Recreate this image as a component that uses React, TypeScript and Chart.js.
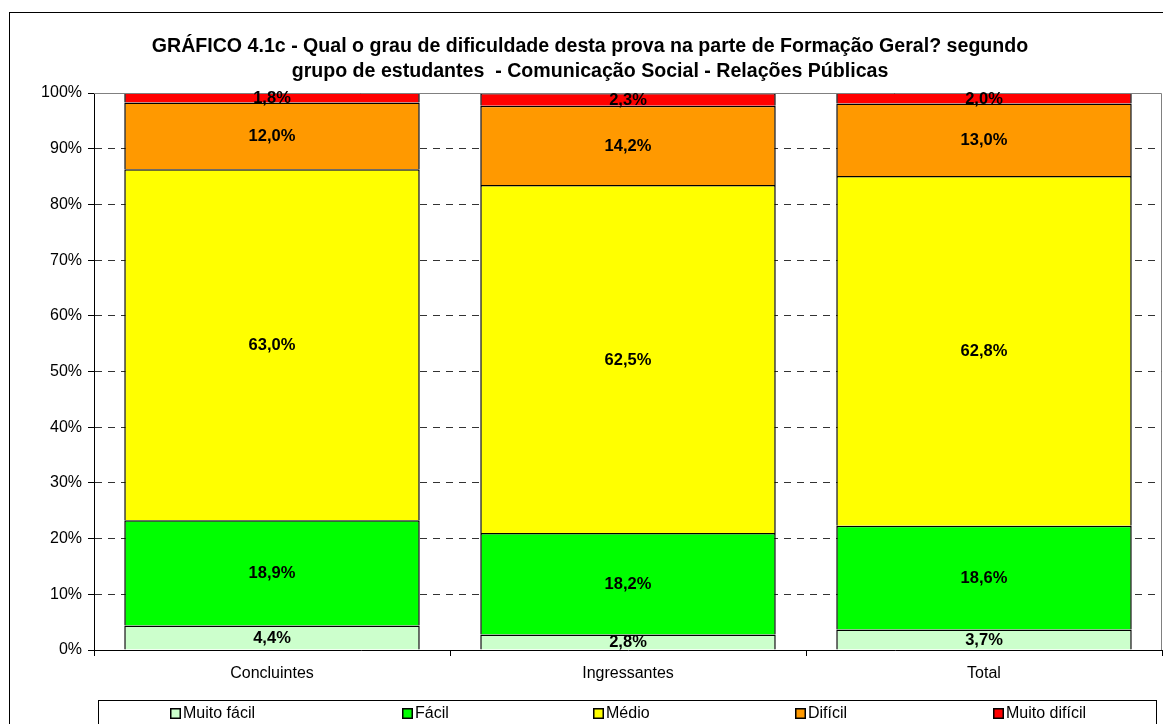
import React, { useEffect, useRef } from "react";
import { Chart, registerables } from "chart.js";

Chart.register(...registerables);

const categories = ["Concluintes", "Ingressantes", "Total"];
const seriesNames = ["Muito fácil", "Fácil", "Médio", "Difícil", "Muito difícil"];
const muitoFacil = [4.4, 2.8, 3.7];
const facil = [18.9, 18.2, 18.6];
const medio = [63.0, 62.5, 62.8];
const dificil = [12.0, 14.2, 13.0];
const muitoDificil = [1.8, 2.3, 2.0];
const yTicks = [0, 10, 20, 30, 40, 50, 60, 70, 80, 90, 100];
const titleLines = [
  "GRÁFICO 4.1c - Qual o grau de dificuldade desta prova na parte de Formação Geral? segundo",
  "grupo de estudantes  - Comunicação Social - Relações Públicas",
];
const colors = ["#CCFFCC", "#00FF00", "#FFFF00", "#FF9900", "#FF0000"];

const FONT = "'Liberation Sans', Arial, sans-serif";
const fmt = (v: number) => v.toFixed(1).replace(".", ",") + "%";

const decorPlugin = {
  id: "decor",
  beforeDraw(chart: any) {
    const { ctx } = chart;
    ctx.save();
    ctx.fillStyle = "#fff";
    ctx.fillRect(0, 0, chart.width, chart.height);
    ctx.strokeStyle = "#000";
    ctx.lineWidth = 1;
    ctx.strokeRect(9.5, 12.5, 1200, 800);
    ctx.fillStyle = "#000";
    ctx.font = `bold 19.6px ${FONT}`;
    ctx.textAlign = "center";
    ctx.textBaseline = "middle";
    ctx.fillText(titleLines[0], 590, 46.5);
    ctx.fillText(titleLines[1], 590, 71.5);
    ctx.restore();
  },
  afterDatasetsDraw(chart: any) {
    const { ctx, chartArea } = chart;
    ctx.save();
    ctx.strokeStyle = "#808080";
    ctx.lineWidth = 1;
    ctx.beginPath();
    ctx.moveTo(chartArea.left, chartArea.top + 0.5);
    ctx.lineTo(chartArea.right - 0.5, chartArea.top + 0.5);
    ctx.lineTo(chartArea.right - 0.5, chartArea.bottom);
    ctx.stroke();
    ctx.fillStyle = "#000";
    ctx.font = `bold 16.5px ${FONT}`;
    ctx.textAlign = "center";
    ctx.textBaseline = "middle";
    chart.data.datasets.forEach((ds: any, di: number) => {
      const meta = chart.getDatasetMeta(di);
      meta.data.forEach((el: any, i: number) => {
        const top = Math.max(el.y, chartArea.top);
        const cy = (top + el.base) / 2;
        ctx.fillText(fmt(ds.data[i]), el.x, cy + 1);
      });
    });
    const lx = [170, 402, 593, 795, 993];
    ctx.strokeStyle = "#000";
    ctx.lineWidth = 1;
    ctx.strokeRect(98.5, 700.5, 1058, 60);
    ctx.font = `16px ${FONT}`;
    ctx.textAlign = "left";
    seriesNames.forEach((name, i) => {
      const x = lx[i];
      ctx.fillStyle = colors[i];
      ctx.fillRect(x, 708, 11, 11);
      ctx.strokeStyle = "#000";
      ctx.lineWidth = 1.5;
      ctx.strokeRect(x + 0.75, 708.75, 9.5, 9.5);
      ctx.fillStyle = "#000";
      ctx.fillText(name, x + 13, 714);
    });
    ctx.restore();
  },
};

export default function App() {
  const ref = useRef<HTMLCanvasElement | null>(null);
  useEffect(() => {
    if (!ref.current) return;
    const seriesData = [muitoFacil, facil, medio, dificil, muitoDificil];
    const chart = new Chart(ref.current, {
      type: "bar",
      data: {
        labels: categories,
        datasets: seriesNames.map((name, i) => ({
          label: name,
          data: seriesData[i],
          backgroundColor: colors[i],
          borderColor: "#000",
          borderWidth: 1.5,
          categoryPercentage: 1,
          barPercentage: 0.83,
        })),
      },
      options: {
        responsive: false,
        maintainAspectRatio: false,
        animation: false,
        layout: { padding: { top: 93, right: 1, left: 0, bottom: 0 } },
        plugins: {
          legend: { display: false },
          title: { display: false },
          tooltip: { enabled: false },
        },
        scales: {
          x: {
            stacked: true,
            afterFit: (s: any) => {
              s.height = 74;
            },
            grid: {
              offset: true,
              drawOnChartArea: false,
              drawTicks: true,
              tickLength: 6,
              tickColor: "#000",
            },
            border: { color: "#000", width: 1 },
            ticks: {
              color: "#000",
              padding: 8,
              font: { family: FONT, size: 16 },
            },
          },
          y: {
            stacked: true,
            min: 0,
            max: 100,
            afterFit: (s: any) => {
              s.width = 94;
            },
            afterBuildTicks: (s: any) => {
              s.ticks = yTicks.map((v) => ({ value: v }));
            },
            grid: {
              color: (c: any) =>
                c.tick && (c.tick.value === 0 || c.tick.value === 100)
                  ? "rgba(0,0,0,0)"
                  : "#333333",
              tickColor: "#000",
              tickLength: 6,
              tickBorderDash: [],
            },
            border: { color: "#000", width: 1, dash: [7, 6] },
            ticks: {
              color: "#000",
              padding: 6,
              font: { family: FONT, size: 16 },
              callback: (v: any) => v + "%",
            },
          },
        },
      },
      plugins: [decorPlugin],
    });
    return () => chart.destroy();
  }, []);
  return (
    <div style={{ position: "absolute", left: 0, top: 0, width: 1163, height: 724 }}>
      <canvas ref={ref} width={1163} height={724} />
    </div>
  );
}
